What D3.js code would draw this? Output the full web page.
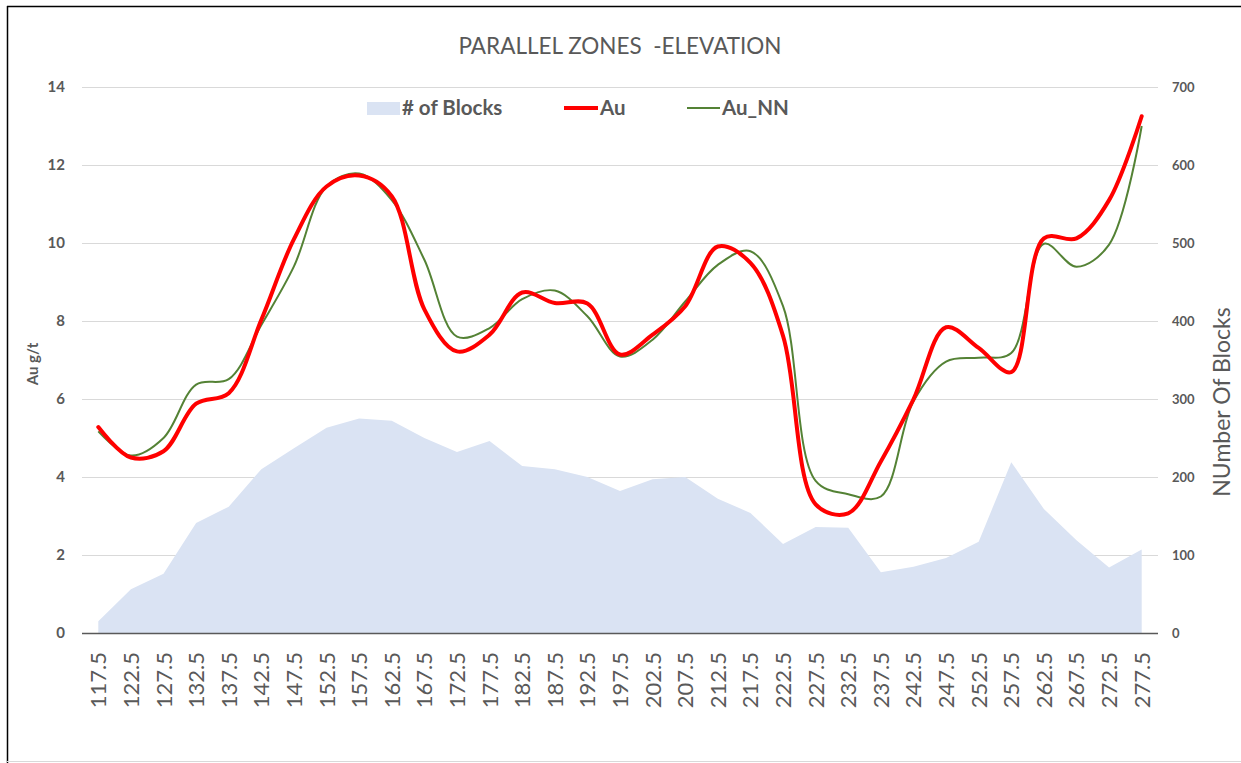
<!DOCTYPE html>
<html>
<head>
<meta charset="utf-8">
<script src="https://cdn.jsdelivr.net/npm/d3@7"></script>
<style>
  html, body { margin: 0; padding: 0; background: #fff; }
  svg { display: block; }
  text { font-family: Lato, "Open Sans", sans-serif; }
</style>
</head>
<body>
<svg id="chart" width="1241" height="763"></svg>
<script>
// Elevation bins (m)
const elevations = ["117.5","122.5","127.5","132.5","137.5","142.5","147.5","152.5","157.5","162.5",
  "167.5","172.5","177.5","182.5","187.5","192.5","197.5","202.5","207.5","212.5",
  "217.5","222.5","227.5","232.5","237.5","242.5","247.5","252.5","257.5","262.5",
  "267.5","272.5","277.5"];

// Number of blocks per bin (right axis)
const blocks = [15, 56, 76, 141, 162, 210, 237, 263, 275, 272,
  250, 232, 246, 214, 210, 200, 182, 197, 200, 172,
  154, 114, 136, 135, 78, 85, 96, 117, 219, 159,
  119, 84, 107];

// Gold grade, Au g/t (left axis)
const au = [5.28, 4.50, 4.66, 5.88, 6.15, 8.03, 10.1, 11.45, 11.73, 11.2,
  8.3, 7.22, 7.65, 8.73, 8.46, 8.45, 7.14, 7.65, 8.38, 9.91,
  9.49, 7.62, 3.3, 3.07, 4.4, 5.99, 7.84, 7.31, 6.69, 10.12,
  10.12, 11.1, 13.25];

// Nearest-neighbour gold grade, Au g/t
const auNN = [5.17, 4.55, 5.0, 6.37, 6.51, 7.9, 9.4, 11.45, 11.78, 11.1,
  9.57, 7.6, 7.82, 8.56, 8.78, 8.12, 7.09, 7.52, 8.5, 9.44,
  9.79, 8.38, 3.9, 3.56, 3.5, 5.94, 6.96, 7.06, 7.18, 9.98,
  9.39, 9.96, 13.0];

const leftTicks = [0, 2, 4, 6, 8, 10, 12, 14];
const rightTicks = [0, 100, 200, 300, 400, 500, 600, 700];

const svg = d3.select("#chart");
const plot = { left: 82, right: 1158, top: 87, bottom: 633 };
const textColor = "#595959";

// Chart frame
svg.append("line").attr("x1", 7.5).attr("x2", 7.5).attr("y1", 6).attr("y2", 763)
  .attr("stroke", "#000").attr("stroke-width", 1.5);
svg.append("line").attr("x1", 7).attr("x2", 1241).attr("y1", 6.5).attr("y2", 6.5)
  .attr("stroke", "#000").attr("stroke-width", 1.5);
svg.append("line").attr("x1", 7).attr("x2", 1241).attr("y1", 761.5).attr("y2", 761.5)
  .attr("stroke", "#d9d9d9").attr("stroke-width", 1);

const x = d3.scaleBand().domain(elevations).range([plot.left, plot.right]).padding(0);
const cx = d => x(d) + x.bandwidth() / 2;
const yL = d3.scaleLinear().domain([0, 14]).range([plot.bottom, plot.top]);
const yR = d3.scaleLinear().domain([0, 700]).range([plot.bottom, plot.top]);

// Gridlines
svg.append("g").selectAll("line").data(leftTicks.filter(t => t > 0)).join("line")
  .attr("x1", plot.left).attr("x2", plot.right)
  .attr("y1", d => yL(d) + 0.5).attr("y2", d => yL(d) + 0.5)
  .attr("stroke", "#d9d9d9").attr("stroke-width", 1);

// Block count area
const area = d3.area()
  .x((d, i) => cx(elevations[i]))
  .y0(yR(0))
  .y1(d => yR(d))
  .curve(d3.curveLinear);
svg.append("path").datum(blocks).attr("d", area).attr("fill", "#dae3f3");

// Baseline
svg.append("line").attr("x1", plot.left).attr("x2", plot.right)
  .attr("y1", plot.bottom + 0.5).attr("y2", plot.bottom + 0.5)
  .attr("stroke", "#595959").attr("stroke-width", 1.5);

// Grade lines, smoothed
const line = d3.line()
  .x((d, i) => cx(elevations[i]))
  .y(d => yL(d))
  .curve(d3.curveCatmullRom.alpha(0.5));
svg.append("path").datum(auNN).attr("d", line)
  .attr("fill", "none").attr("stroke", "#548235").attr("stroke-width", 2);
svg.append("path").datum(au).attr("d", line)
  .attr("fill", "none").attr("stroke", "#ff0000").attr("stroke-width", 4)
  .attr("stroke-linejoin", "round").attr("stroke-linecap", "round");

// Left axis
const leftAxis = d3.axisLeft(yL).tickValues(leftTicks).tickSize(0).tickPadding(0);
const gL = svg.append("g").attr("transform", `translate(${plot.left - 17},0)`).call(leftAxis);
gL.select(".domain").remove();
gL.selectAll("text").attr("fill", textColor).style("font-size", "15px").style("font-weight", "bold")
  .style("font-family", "Lato, sans-serif");

// Right axis
const rightAxis = d3.axisRight(yR).tickValues(rightTicks).tickSize(0).tickPadding(0);
const gR = svg.append("g").attr("transform", `translate(${plot.right + 14},0)`).call(rightAxis);
gR.select(".domain").remove();
gR.selectAll("text").attr("fill", textColor).style("font-size", "13px").style("font-weight", "bold")
  .style("font-family", "Lato, sans-serif");

// Category axis, rotated labels
const bottomAxis = d3.axisBottom(x).tickSize(0).tickPadding(0);
const gB = svg.append("g").attr("transform", `translate(0,${plot.bottom})`).call(bottomAxis);
gB.select(".domain").remove();
gB.selectAll("text")
  .attr("fill", textColor)
  .style("font-size", "22px")
  .style("font-family", "Lato, sans-serif")
  .attr("text-anchor", "end")
  .attr("dy", null)
  .attr("transform", "translate(8,19) rotate(-90)");

// Axis titles
svg.append("text").attr("transform", `translate(38,${364}) rotate(-90)`)
  .attr("text-anchor", "middle").attr("fill", textColor)
  .style("font-size", "15px").style("font-weight", "bold").text("Au g/t");
svg.append("text").attr("transform", `translate(1230,${402}) rotate(-90)`)
  .attr("text-anchor", "middle").attr("fill", textColor)
  .style("font-size", "23px").text("NUmber Of Blocks");

// Title
svg.append("text").attr("x", 620).attr("y", 54).attr("text-anchor", "middle")
  .attr("fill", textColor).style("font-size", "22.5px")
  .attr("xml:space", "preserve")
  .text("PARALLEL ZONES  -ELEVATION");

// Legend
const legend = svg.append("g").style("font-size", "20.5px").style("font-weight", "bold");
legend.append("rect").attr("x", 367).attr("y", 102).attr("width", 33).attr("height", 13).attr("fill", "#dae3f3");
legend.append("text").attr("x", 402).attr("y", 115).attr("fill", textColor).text("# of Blocks");
legend.append("line").attr("x1", 564).attr("x2", 598).attr("y1", 108).attr("y2", 108)
  .attr("stroke", "#ff0000").attr("stroke-width", 4);
legend.append("text").attr("x", 600).attr("y", 115).attr("fill", textColor).text("Au");
legend.append("line").attr("x1", 687).attr("x2", 720).attr("y1", 108).attr("y2", 108)
  .attr("stroke", "#548235").attr("stroke-width", 2);
legend.append("text").attr("x", 722).attr("y", 115).attr("fill", textColor).text("Au_NN");
</script>
</body>
</html>
